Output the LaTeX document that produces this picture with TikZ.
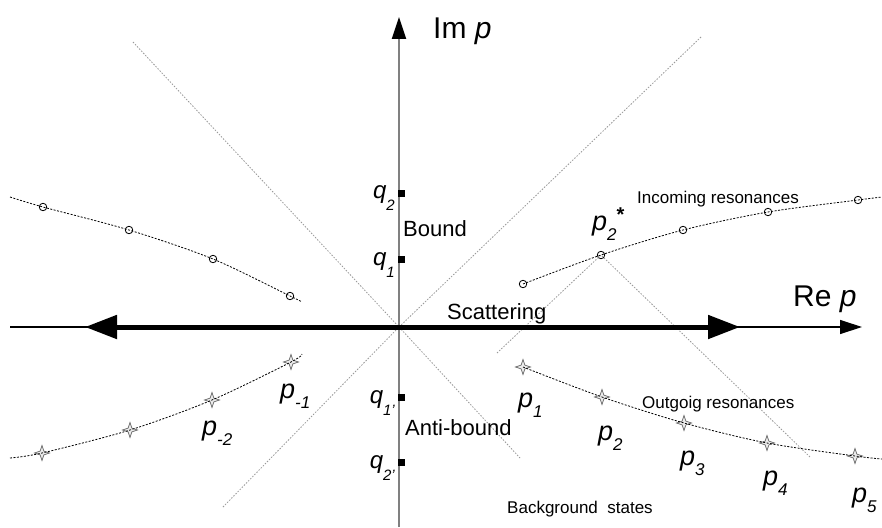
\documentclass[tikz,border=0pt]{standalone}
\usepackage{fontspec}
\setmainfont{Liberation Sans}
\usetikzlibrary{arrows.meta,shapes.geometric}
\newcommand\plab[1]{\textit{p}\raisebox{-10pt}{\fontsize{17}{17}\selectfont\itshape #1}}
\newcommand\qlab[1]{\textit{q}\raisebox{-12pt}{\fontsize{15}{15}\selectfont\itshape #1}}
\begin{document}
\begin{tikzpicture}[x=1pt,y=-1pt,
  txt/.style={anchor=base west,inner sep=0pt,font=\fontsize{22}{22}\selectfont},
  small/.style={anchor=base west,inner sep=0pt,font=\fontsize{17}{17}\selectfont},
  axlabel/.style={anchor=base west,inner sep=0pt,font=\fontsize{30}{30}\selectfont},
  plabel/.style={anchor=base west,inner sep=0pt,font=\fontsize{27}{27}\selectfont},
  qlabel/.style={anchor=base east,inner sep=0pt,font=\fontsize{24}{24}\selectfont},
  ring/.style={circle,draw,line width=0.8pt,minimum size=7.5pt,inner sep=0pt},
  spark/.style={star,star points=4,star point ratio=2.8,minimum size=15pt,inner sep=0pt,draw=gray!80!black,fill=gray!15,line width=0.7pt},
  qsq/.style={fill,minimum size=7pt,inner sep=0pt},
  res/.style={line width=0.8pt,dash pattern=on 2pt off 1.5pt},
  guide/.style={gray!80,line width=0.8pt,dash pattern=on 1.5pt off 1.5pt}]
\fill[white] (0,0) rectangle (882,527);
\useasboundingbox (0,0) rectangle (882,527);
% axes
\coordinate (O) at (399,327);
\coordinate (xl) at (10,327); \coordinate (xr) at (862,327);
\coordinate (yb) at (399,527); \coordinate (yt) at (399,17);
\coordinate (sl) at (85,327); \coordinate (sr) at (740,327);
% guide lines
\coordinate (g1) at (133,42); \coordinate (g2) at (520,458);
\coordinate (g3) at (701,37); \coordinate (g4) at (222,508);
\coordinate (g5) at (497,353); \coordinate (g6) at (810,457);
\draw[guide] (g1)--(O)--(g2);
\draw[guide] (g3)--(O)--(g4);
% poles: incoming resonances
\node[ring] (ur1) at (523,284) {}; \node[ring] (ur2) at (601,255) {};
\node[ring] (ur3) at (683,230) {}; \node[ring] (ur4) at (768,212) {};
\node[ring] (ur5) at (858,200) {}; \coordinate (ur6) at (882,197);
\node[ring] (ul1) at (43,207) {}; \node[ring] (ul2) at (129,230) {};
\node[ring] (ul3) at (213,259) {}; \node[ring] (ul4) at (290,296) {};
\coordinate (ul0) at (10,197); \coordinate (ul5) at (302,302);
\draw[guide] (g5)--(ur2.center)--(g6);
% poles: outgoing resonances
\node[spark] (p1) at (523,367) {}; \node[spark] (p2) at (602,397) {};
\node[spark] (p3) at (684,423) {}; \node[spark] (p4) at (767,443) {};
\node[spark] (p5) at (855,456) {}; \coordinate (p6) at (882,459);
\node[spark] (m1) at (291,362) {}; \node[spark] (m2) at (212,400) {};
\node[spark] (m3) at (130,430) {}; \node[spark] (m4) at (42,453) {};
\coordinate (m0) at (302,354); \coordinate (m5) at (10,458);
\draw[res] plot[smooth] coordinates {(ul0) (ul1.center) (ul2.center) (ul3.center) (ul4.center) (ul5)};
\draw[res] plot[smooth] coordinates {(ur1.center) (ur2.center) (ur3.center) (ur4.center) (ur5.center) (ur6)};
\draw[res] plot[smooth] coordinates {(m5) (m4.center) (m3.center) (m2.center) (m1.center) (m0)};
\draw[res] plot[smooth] coordinates {(p1.center) (p2.center) (p3.center) (p4.center) (p5.center) (p6)};
\draw[line width=1.2pt,-{Triangle[length=22pt,width=14pt]}] (xl)--(xr);
\draw[gray,line width=2pt,-{Triangle[length=22pt,width=14pt,black]}] (yb)--(yt);
\draw[line width=5pt,{Triangle[length=32pt,width=23pt]}-{Triangle[length=32pt,width=23pt]}] (sl)--(sr);
% bound and anti-bound states
\node[qsq] (q2) at (401,193) {}; \node[qsq] (q1) at (401,259) {};
\node[qsq] (q1p) at (401,397) {}; \node[qsq] (q2p) at (401,462) {};
\node[qlabel] (lq2) at (395,198) {\qlab{2}};
\node[qlabel] (lq1) at (395,265) {\qlab{1}};
\node[qlabel] (lq1p) at (395,403) {\qlab{1'}};
\node[qlabel] (lq2p) at (395,468) {\qlab{2'}};
% labels
\node[axlabel] (im) at (433,38) {Im \textit{p}};
\node[axlabel] (re) at (793,306) {Re \textit{p}};
\node[txt] (bnd) at (403,236) {Bound};
\node[txt] (abnd) at (405,435) {Anti-bound};
\node[txt] (scat) at (447,319) {Scattering};
\node[small] (inc) at (637,203) {Incoming resonances};
\node[small] (out) at (642,408) {Outgoig resonances};
\node[small] (bg) at (507,513) {Background\ \ states};
\node[plabel] (lp2s) at (592,230) {\plab{2}\raisebox{9pt}{\fontsize{20}{20}\selectfont\bfseries *}};
\node[plabel] (lm1) at (280,398) {\plab{-1}};
\node[plabel] (lm2) at (202,435) {\plab{-2}};
\node[plabel] (lp1) at (518,407) {\plab{1}};
\node[plabel] (lp2) at (598,440) {\plab{2}};
\node[plabel] (lp3) at (680,465) {\plab{3}};
\node[plabel] (lp4) at (763,485) {\plab{4}};
\node[plabel] (lp5) at (852,502) {\plab{5}};
\end{tikzpicture}
\end{document}
